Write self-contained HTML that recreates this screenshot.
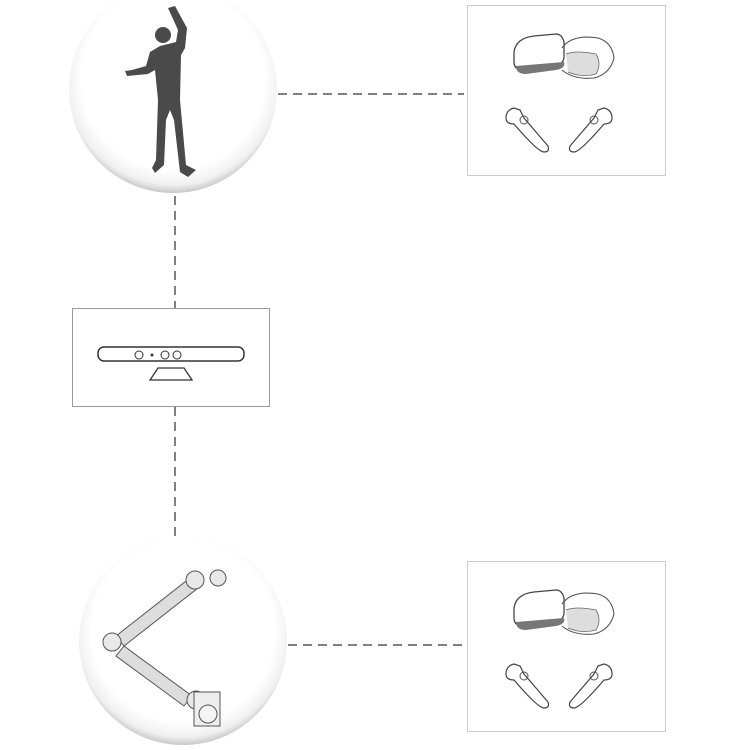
<!DOCTYPE html>
<html><head><meta charset="utf-8"><style>
html,body{margin:0;padding:0;background:#fff;width:750px;height:750px;overflow:hidden}
</style></head><body>
<svg width="750" height="750" viewBox="0 0 750 750" xmlns="http://www.w3.org/2000/svg">
<defs>
<radialGradient id="g" cx="0.5" cy="0.45" r="0.55">
<stop offset="0.8" stop-color="#ffffff"/><stop offset="0.93" stop-color="#f0f0f0"/><stop offset="1" stop-color="#c8c8c8"/>
</radialGradient>
<g id="vr">
<path d="M52 42 q2-14 20-16 l22-2 q6 0 8 8 l0 16 q-2 8-10 8 l-30 4 q-10 0-10-8z" fill="#fff" stroke="#444" stroke-width="1.3"/>
<path d="M54 56 l48-4 q2 6-8 8 l-30 4 q-10 0-10-8z" fill="#777"/>
<path d="M100 38 q10-14 36-10 q14 4 16 20 q-4 16-20 20 q-20 2-32-8" fill="none" stroke="#555" stroke-width="1.1"/>
<path d="M104 44 q10-4 30 0 q6 10 0 20 q-14 4-28-2" fill="#ddd" stroke="#666" stroke-width="0.8"/>
<path d="M44 108 q0-8 8-10 l6 2 l4 8 l24 28 q2 6-4 6 q-6 0-30-28 q-8 0-8-6z" fill="#fff" stroke="#444" stroke-width="1.2"/>
<circle cx="62" cy="110" r="4" fill="none" stroke="#555"/>
<path d="M150 108 q0-8-8-10 l-6 2 l-4 8 l-24 28 q-2 6 4 6 q6 0 30-28 q8 0 8-6z" fill="#fff" stroke="#444" stroke-width="1.2"/>
<circle cx="132" cy="110" r="4" fill="none" stroke="#555"/>
</g>
</defs>
<g stroke="#808080" stroke-width="2" stroke-dasharray="9,6" fill="none">
<line x1="278" y1="94" x2="464" y2="94"/>
<line x1="175" y1="196" x2="175" y2="308"/>
<line x1="175" y1="407" x2="175" y2="537"/>
<line x1="288" y1="645" x2="464" y2="645"/>
</g>
<circle cx="173" cy="89" r="104" fill="url(#g)"/>
<circle cx="163" cy="35" r="8" fill="#4a4a4a"/>
<path d="M168 8 L175 6 L187 28 L185 48 L181 55 L180 100 L186 165 L196 170 L188 177 L180 172 L174 120 L170 110 L166 120 L164 165 L155 173 L152 168 L156 160 L158 100 L155 70 L148 74 L127 76 L125 71 L132 70 L146 66 L150 52 L160 46 L176 42 L178 30 Z" fill="#4a4a4a"/>
<rect x="467.5" y="5.5" width="198" height="170" fill="#fff" stroke="#ccc"/>
<use href="#vr" x="462" y="10"/>
<rect x="72.5" y="308.5" width="197" height="98" fill="#fff" stroke="#999"/>
<rect x="98" y="347" width="146" height="14" rx="6" fill="#fff" stroke="#333" stroke-width="1.5"/>
<circle cx="139" cy="355" r="4" fill="none" stroke="#333"/><circle cx="165" cy="355" r="4" fill="none" stroke="#333"/><circle cx="177" cy="355" r="4" fill="none" stroke="#333"/><circle cx="152" cy="355" r="1.5" fill="#333"/>
<path d="M158 368 l26 0 l8 12 l-42 0z" fill="#fff" stroke="#333" stroke-width="1.3"/>
<circle cx="183" cy="641" r="104" fill="url(#g)"/>
<g stroke="#555" stroke-width="1" fill="#ddd">
<path d="M116 636 l74-58 l8 10 l-74 58z"/>
<path d="M124 646 l68 50 l-8 10 l-68-50z"/>
<circle cx="112" cy="642" r="9" fill="#e8e8e8"/>
<circle cx="195" cy="580" r="9" fill="#e8e8e8"/>
<circle cx="218" cy="578" r="8" fill="#e8e8e8"/>
<circle cx="196" cy="700" r="9" fill="#e8e8e8"/>
<rect x="194" y="692" width="26" height="34" fill="#eee"/>
<circle cx="208" cy="714" r="9" fill="#f4f4f4"/>
</g>
<rect x="467.5" y="561.5" width="198" height="170" fill="#fff" stroke="#ccc"/>
<use href="#vr" x="462" y="566"/>
</svg>
</body></html>
